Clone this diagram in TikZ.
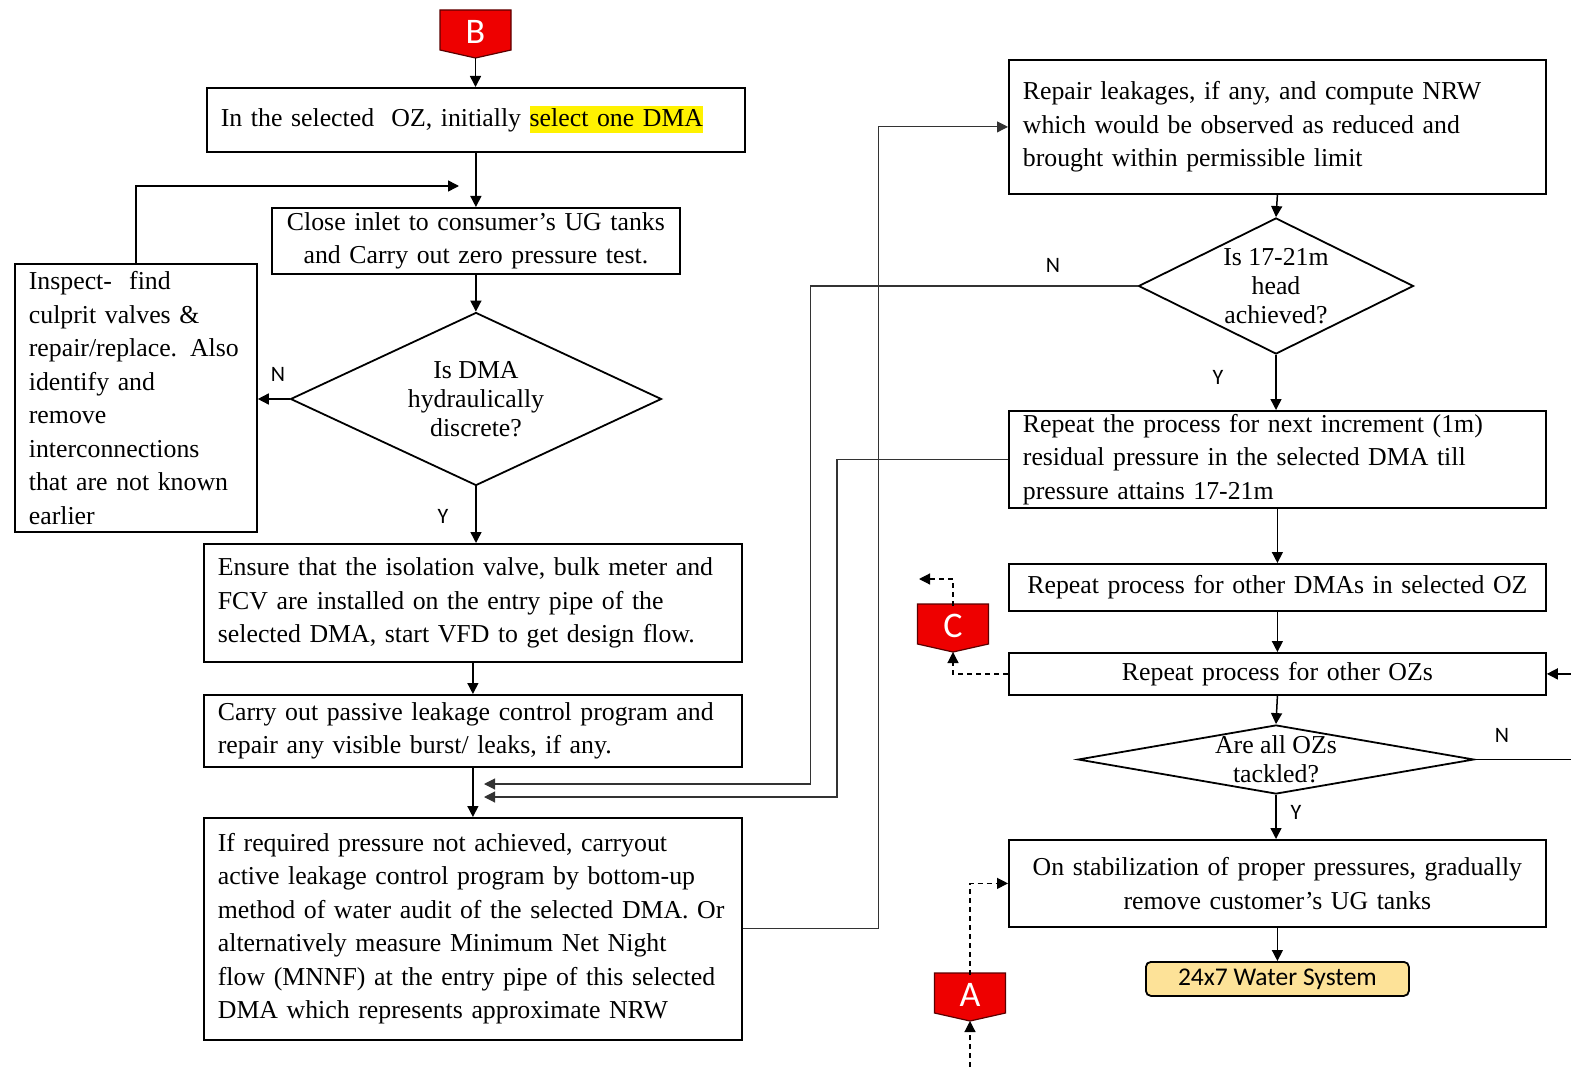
\documentclass[tikz,border=0pt]{standalone}
\usepackage{fontspec}
\setmainfont{Liberation Serif}
\newfontfamily\labelsans{Carlito}
\usetikzlibrary{arrows.meta,shapes.geometric,calc}

% one unbreakable line inside a box
\newcommand\Lbox[1]{\mbox{#1}}

\begin{document}
\begin{tikzpicture}[x=1pt,y=-1pt,
  txt/.style={font=\fontsize{25.8}{33.5}\selectfont},
  dtxt/.style={font=\fontsize{25.8}{29}\selectfont, align=center, inner sep=0pt},
  box/.style={draw, line width=1.8pt, anchor=north west, inner xsep=14pt, inner ysep=0pt, txt},
  lbox/.style={box, align=left},
  cbox/.style={box, align=center},
  dec/.style={diamond, draw, line width=1.8pt, inner sep=0pt},
  arr/.style={line width=1.5pt, -{Triangle[length=11pt,width=11pt]}},
  farr/.style={line width=1.1pt, draw=black!80, -{Triangle[length=11pt,width=11pt]}},
  darr/.style={line width=1.2pt, dash pattern=on 5pt off 4pt, -{Triangle[length=11pt,width=11pt]}},
  yn/.style={font=\labelsans\fontsize{22}{22}\selectfont, inner sep=0pt},
  offpage/.style={minimum width=71pt, minimum height=40pt, inner sep=0pt, text=white,
                  font=\labelsans\fontsize{36}{36}\selectfont},
  offfill/.style={fill={rgb,255:red,238;green,0;blue,0}, draw={rgb,255:red,90;green,0;blue,0}, line width=1.2pt},
]
\useasboundingbox (0,0) rectangle (1571,1067);

% ---------- off-page markers ----------
\coordinate (cB) at (475.5,30);
\filldraw[offfill] ($(cB)+(-35.5,-20)$) -- ($(cB)+(35.5,-20)$) -- ($(cB)+(35.5,20)$)
  -- ($(cB)+(0,28)$) -- ($(cB)+(-35.5,20)$) -- cycle;
\node[offpage] (mB) at ($(cB)+(0,2)$) {B};
\coordinate (mBtip) at ($(cB)+(0,28)$);

\coordinate (cC) at (953,624);
\filldraw[offfill] ($(cC)+(-35.5,-20)$) -- ($(cC)+(35.5,-20)$) -- ($(cC)+(35.5,20)$)
  -- ($(cC)+(0,28)$) -- ($(cC)+(-35.5,20)$) -- cycle;
\node[offpage] (mC) at ($(cC)+(0,2)$) {C};
\coordinate (mCtip) at ($(cC)+(0,28)$);

\coordinate (cA) at (970,993);
\filldraw[offfill] ($(cA)+(-35.5,-20)$) -- ($(cA)+(35.5,-20)$) -- ($(cA)+(35.5,20)$)
  -- ($(cA)+(0,28)$) -- ($(cA)+(-35.5,20)$) -- cycle;
\node[offpage] (mA) at ($(cA)+(0,2)$) {A};
\coordinate (mAtip) at ($(cA)+(0,28)$);

% ---------- left column ----------
\node[lbox, minimum width=538pt, minimum height=64pt, text width=510pt] (b1) at (206,87)
  {\Lbox{In the selected\ \ OZ, initially {\fboxsep=0pt\colorbox{yellow}{\rule[-7pt]{0pt}{27pt}select one DMA}}}};

\node[cbox, minimum width=408pt, minimum height=66pt, text width=380pt] (b2) at (271,207)
  {\Lbox{Close inlet to consumer’s UG tanks}\\ \Lbox{and Carry out zero pressure test.}};

\node[dec, minimum width=371pt, minimum height=173pt] (d1) at (476,399) {};
\node[dtxt] (d1t) at (d1.center) {Is DMA\\ hydraulically\\ discrete?};

\node[lbox, minimum width=242pt, minimum height=268pt, text width=214pt] (ins) at (14,263)
  {\Lbox{Inspect-\ \ find}\\ \Lbox{culprit valves \&}\\ \Lbox{repair/replace. Also}\\
   \Lbox{identify and}\\ \Lbox{remove}\\ \Lbox{interconnections}\\
   \Lbox{that are not known}\\ \Lbox{earlier}};

\node[lbox, minimum width=538pt, minimum height=118pt, text width=510pt] (b3) at (203,543)
  {\Lbox{Ensure that the isolation valve, bulk meter and}\\
   \Lbox{FCV are installed on the entry pipe of the}\\
   \Lbox{selected DMA, start VFD to get design flow.}};

\node[lbox, minimum width=538pt, minimum height=72pt, text width=510pt] (b4) at (203,694)
  {\Lbox{Carry out passive leakage control program and}\\
   \Lbox{repair any visible burst/ leaks, if any.}};

\node[lbox, minimum width=538pt, minimum height=222pt, text width=510pt] (b5) at (203,817)
  {\Lbox{If required pressure not achieved, carryout}\\
   \Lbox{active leakage control program by bottom-up}\\
   \Lbox{method of water audit of the selected DMA. Or}\\
   \Lbox{alternatively measure Minimum Net Night}\\
   \Lbox{flow (MNNF) at the entry pipe of this selected}\\
   \Lbox{DMA which represents approximate NRW}};

% ---------- right column ----------
\node[lbox, minimum width=537pt, minimum height=134pt, text width=509pt] (b6) at (1008,59)
  {\Lbox{Repair leakages, if any, and compute NRW}\\
   \Lbox{which would be observed as reduced and}\\
   \Lbox{brought within permissible limit}};

\node[dec, minimum width=275pt, minimum height=136pt] (d2) at (1276,286) {};
\node[dtxt] (d2t) at (d2.center) {Is 17-21m\\ head\\ achieved?};

\node[lbox, minimum width=537pt, minimum height=97pt, text width=509pt] (b7) at (1008,410)
  {\Lbox{Repeat the process for next increment (1m)}\\
   \Lbox{residual pressure in the selected DMA till}\\
   \Lbox{pressure attains 17-21m}};

\node[cbox, minimum width=537pt, minimum height=47pt, text width=509pt] (b8) at (1008,563)
  {\Lbox{Repeat process for other DMAs in selected OZ}};

\node[cbox, minimum width=537pt, minimum height=42pt, text width=509pt] (b9) at (1008,652)
  {\Lbox{Repeat process for other OZs}};

\node[dec, minimum width=396pt, minimum height=69pt] (d3) at (1276,759.5) {};
\node[dtxt] (d3t) at (d3.center) {Are all OZs\\ tackled?};

\node[cbox, minimum width=537pt, minimum height=87pt, text width=509pt] (b10) at (1008,839)
  {\Lbox{On stabilization of proper pressures, gradually}\\ \Lbox{remove customer’s UG tanks}};

\node[draw, line width=1.8pt, rounded corners=5pt, anchor=north west,
      fill={rgb,255:red,253;green,226;blue,152}, minimum width=263pt, minimum height=34pt,
      inner sep=0pt, font=\labelsans\fontsize{25.5}{25.5}\selectfont] (end) at (1145,961)
  {24x7 Water System};

% ---------- Y / N labels ----------
\node[yn] (n1) at (278,374) {N};
\node[yn] (y1) at (443,516) {Y};
\node[yn] (n2) at (1053,265) {N};
\node[yn] (y2) at (1218,377) {Y};
\node[yn] (n3) at (1502,735) {N};
\node[yn] (y3) at (1296,812) {Y};

% ---------- main flow ----------
\draw[arr] (mBtip) -- (mBtip |- b1.north);
\draw[arr] (b1.south) -- (b1.south |- b2.north);
\draw[arr] (b2.south) -- (b2.south |- d1.north);
\draw[arr] (d1.west) -- (ins.east |- d1.west);
\coordinate (loopend) at (459,186);
\draw[arr] (ins.north) |- (loopend);
\draw[arr] (d1.south) -- (d1.south |- b3.north);
\draw[arr] (b3.south) -- (b4.north);
\draw[arr] (b4.south) -- (b5.north);

\draw[farr] (b5.east) -- ++(136,0) |- (b6.west);
\draw[arr] (b6.south) -- (d2.north);
\coordinate (in1) at (484,784);
\draw[farr] (d2.west) -- ++(-327,0) |- (in1);
\draw[arr] (d2.south) -- (d2.south |- b7.north);
\coordinate (in2) at (484,797);
\draw[farr] (b7.west) -- ++(-171,0) |- (in2);
\draw[arr] (b7.south) -- (b8.north);
\draw[arr] (b8.south) -- (b9.north);
\draw[arr] (b9.south) -- (d3.north);
\begin{scope}
  \clip (0,0) rectangle (1571,1067);
  \draw[arr] (d3.east) -- ++(130,0) |- (b9.east);
\end{scope}
\draw[arr] (d3.south) -- (d3.south |- b10.north);
\draw[arr] (b10.south) -- (b10.south |- end.north);

% ---------- dashed off-page links ----------
\draw[darr] (b9.west) -| (mCtip);
\coordinate (Cout) at (919,579);
\draw[darr] (mC.north) |- (Cout);
\coordinate (Ain) at (970,1067);
\draw[darr] (Ain) -- (mAtip);
\draw[darr] (mA.north) |- (b10.west);
\end{tikzpicture}
\end{document}
